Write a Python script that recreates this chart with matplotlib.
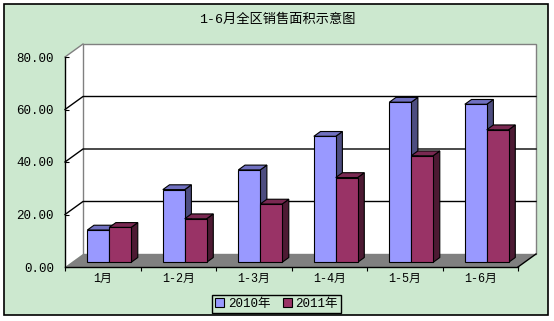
"""
1-6月全区销售面积示意图 (Excel风格的3D柱状图) を matplotlib で再現する.
"""
import matplotlib.pyplot as plt
from matplotlib.patches import Polygon, Rectangle, Patch

# データ
categories = ['1月', '1-2月', '1-3月', '1-4月', '1-5月', '1-6月']
series_names = ['2010年', '2011年']
values_2010 = [12.3, 27.7, 35.2, 48.0, 61.0, 60.2]
values_2011 = [13.3, 16.6, 22.2, 32.3, 40.6, 50.5]
y_ticks = [0, 20, 40, 60, 80]

# 色 (正面, 上面, 側面)
colors_2010 = ('#9999FF', '#7070C0', '#4D4D80')
colors_2011 = ('#993366', '#7A2952', '#4D1A33')
BG = '#CCE8CF'

# 数字は等幅 (宋体っぽく), 漢字はCJKフォントにフォールバック
plt.rcParams['font.family'] = ['Liberation Mono', 'Noto Sans CJK SC']

W, H = 554, 321
fig = plt.figure(figsize=(W / 100, H / 100), dpi=100)
fig.patch.set_facecolor('white')
# 外枠 (緑の背景). axesより先に描くのでzorderを下げる.
fig.patches.append(Rectangle((4 / W, 1 - 315 / H), 544 / W, 311 / H, transform=fig.transFigure,
                             facecolor=BG, edgecolor='black', lw=1.2, zorder=-1))

# 前面の床の位置でaxesを作る
ax = fig.add_axes([65 / W, 1 - 267 / H, 453 / W, 210 / H])
ax.set_facecolor('none')
n = len(categories)
ymax = y_ticks[-1]
ax.set_xlim(0, n)
ax.set_ylim(0, ymax)

# 奥行き (データ単位)
DX = 18 / (453 / n)
DY = 13 / (210 / ymax)

# 左の壁
ax.add_patch(Polygon([(0, 0), (DX, DY), (DX, ymax + DY), (0, ymax)], closed=True,
                     facecolor='white', edgecolor='none', clip_on=False, zorder=1))
# 奥の壁
ax.add_patch(Rectangle((DX, DY), n, ymax, facecolor='white', edgecolor='#808080', lw=1,
                       clip_on=False, zorder=1))
ax.plot([0, DX], [ymax, ymax + DY], color='#808080', lw=1, clip_on=False, zorder=2)
# 床
ax.add_patch(Polygon([(0, 0), (n, 0), (n + DX, DY), (DX, DY)], closed=True,
                     facecolor='#808080', edgecolor='none', clip_on=False, zorder=2))
ax.plot([n, n + DX], [0, DY], color='black', lw=1, clip_on=False, zorder=2)

# グリッド線
for v in y_ticks[1:-1]:
    ax.plot([0, DX, n + DX], [v, v + DY, v + DY], color='black', lw=1, clip_on=False, zorder=2)

# 棒の描画
bar_w = 0.29
f_front = 0.36  # 棒の前面の奥行き位置
f_depth = 0.37  # 棒の奥行き
ox, oy = f_front * DX, f_front * DY
bx, by = f_depth * DX, f_depth * DY


def draw_bar(x0, h, cols):
    x0 += ox
    y0 = oy
    x1 = x0 + bar_w
    y1 = y0 + h
    # 側面
    ax.add_patch(Polygon([(x1, y0), (x1 + bx, y0 + by), (x1 + bx, y1 + by), (x1, y1)],
                         closed=True, facecolor=cols[2], edgecolor='black', lw=0.8,
                         clip_on=False, zorder=4))
    # 上面
    ax.add_patch(Polygon([(x0, y1), (x0 + bx, y1 + by), (x1 + bx, y1 + by), (x1, y1)],
                         closed=True, facecolor=cols[1], edgecolor='black', lw=0.8,
                         clip_on=False, zorder=4))
    # 正面
    ax.add_patch(Rectangle((x0, y0), bar_w, h, facecolor=cols[0], edgecolor='black', lw=0.8,
                           clip_on=False, zorder=4))


for i in range(n):
    left = i + 0.5 - bar_w
    draw_bar(left, values_2010[i], colors_2010)
    draw_bar(left + bar_w, values_2011[i], colors_2011)

# 軸
for s in ['top', 'right']:
    ax.spines[s].set_visible(False)
for s in ['left', 'bottom']:
    ax.spines[s].set_color('black')
    ax.spines[s].set_linewidth(1)
    ax.spines[s].set_zorder(5)

ax.set_yticks(y_ticks)
ax.set_yticklabels(['%.2f' % v for v in y_ticks], fontsize=9)
ax.tick_params(axis='y', length=3, direction='in', pad=8)
ax.set_xticks(range(n + 1))
ax.set_xticklabels([''] * (n + 1))
ax.tick_params(axis='x', which='major', length=3, direction='out')
ax.set_xticks([i + 0.5 for i in range(n)], minor=True)
ax.set_xticklabels(categories, minor=True, fontsize=8.5)
ax.tick_params(axis='x', which='minor', length=0, pad=4)

# タイトル
fig.text(0.5, 1 - 20 / H, '1-6月全区销售面积示意图', ha='center', va='center', fontsize=9.5)

# 凡例
handles = [Patch(facecolor=colors_2010[0], edgecolor='black', lw=0.8),
           Patch(facecolor=colors_2011[0], edgecolor='black', lw=0.8)]
leg = fig.legend(handles, series_names, loc='center', bbox_to_anchor=(276.5 / W, 1 - 304 / H),
                 ncol=2, fontsize=9, frameon=True, fancybox=False, edgecolor='black',
                 facecolor=BG, framealpha=1, handlelength=0.7, handleheight=0.7,
                 handletextpad=0.3, columnspacing=1.0, borderpad=0.25, borderaxespad=0)
leg.get_frame().set_linewidth(1)

fig.savefig('out.png', dpi=100, facecolor=fig.get_facecolor())
